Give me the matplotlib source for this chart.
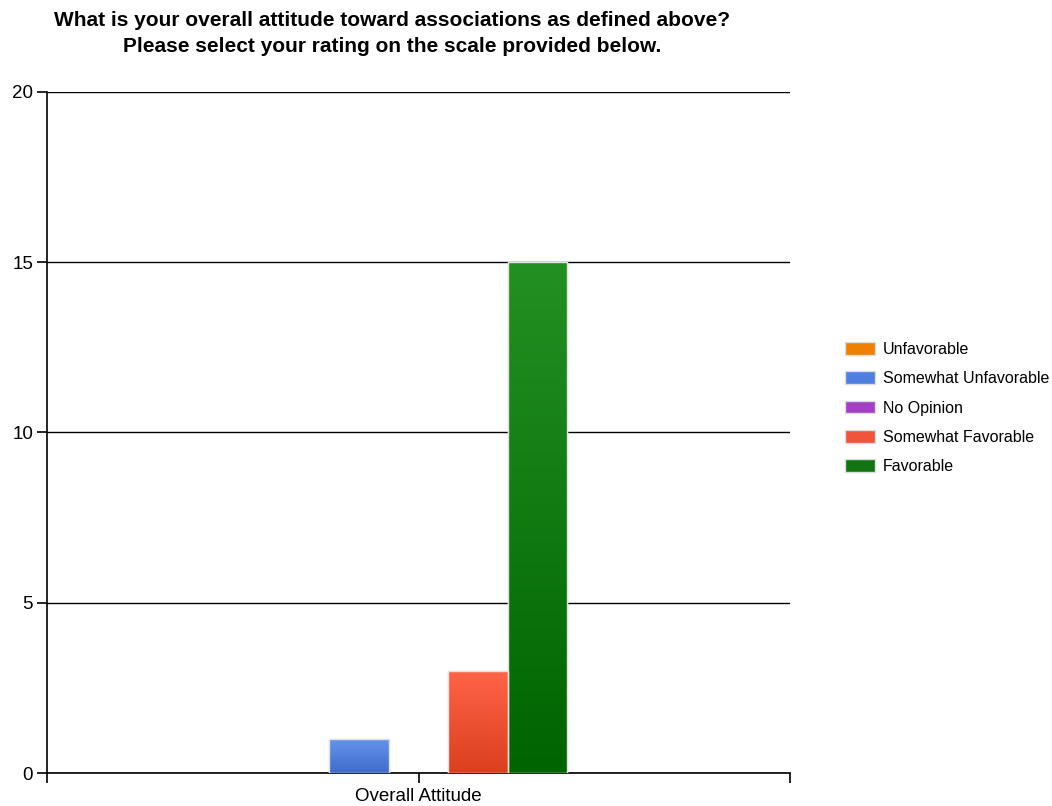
import numpy as np
import matplotlib.pyplot as plt
from matplotlib.colors import LinearSegmentedColormap
from matplotlib.patches import Patch

plt.rcParams['font.family'] = ['Liberation Sans', 'DejaVu Sans']

# ---- data
title_lines = ['What is your overall attitude toward associations as defined above?',
               'Please select your rating on the scale provided below.']
group = 'Overall Attitude'
answers = ['Unfavorable', 'Somewhat Unfavorable', 'No Opinion', 'Somewhat Favorable', 'Favorable']
counts = [0, 1, 0, 3, 15]
# (top colour, bottom colour) of each bar gradient
top_colors = ['#F58A1E', '#6694EC', '#B04AD0', '#FF6448', '#239023']
bottom_colors = ['#E06A00', '#3F6CCB', '#8E2EB0', '#DA3F1E', '#006400']
legend_colors = ['#F08000', '#4F7FDF', '#A23FC4', '#F0543A', '#107510']
yticks = [0, 5, 10, 15, 20]

fig = plt.figure(figsize=(10.52, 8.06), dpi=100)
ax = fig.add_axes([47 / 1052, 1 - 773 / 806, (790 - 47) / 1052, (773 - 92) / 806])

w = 0.08
for i, (val, c0, c1) in enumerate(zip(counts, top_colors, bottom_colors)):
    if val <= 0:
        continue  # empty answers draw nothing
    x = (i - 2) * w
    bar = ax.bar(x, val, width=w, color=c1, edgecolor='#e2e2e2', linewidth=1, zorder=3)[0]
    cmap = LinearSegmentedColormap.from_list('g%d' % i, [c1, c0])
    grad = np.linspace(0, 1, 256).reshape(-1, 1)
    im = ax.imshow(grad, cmap=cmap, origin='lower', aspect='auto',
                   extent=(x - w / 2, x + w / 2, 0, val), zorder=3.5)
    im.set_clip_path(bar)
    # redraw edge on top
    ax.bar(x, val, width=w, color='none', edgecolor='#e2e2e2', linewidth=1, zorder=4)

ax.set_xlim(-0.5, 0.5)
ax.set_ylim(0, 20)
ax.set_yticks(yticks)
ax.set_xticks([-0.5, 0, 0.5])
ax.set_xticklabels(['', group, ''])
ax.yaxis.grid(True, color='black', linewidth=1)
ax.set_axisbelow(True)
for s in ['top', 'right']:
    ax.spines[s].set_visible(False)
for s in ['left', 'bottom']:
    ax.spines[s].set_linewidth(1.2)
ax.tick_params(axis='both', length=7, width=1.2, labelsize=13.5, pad=3)
ax.tick_params(axis='x', pad=4)

handles = [Patch(facecolor=c, edgecolor='#dddddd', label=a) for c, a in zip(legend_colors, answers)]
fig.legend(handles=handles, loc='center left', bbox_to_anchor=(845 / 1052, 1 - 408 / 806),
           frameon=False, fontsize=11.5, handlelength=1.9, handleheight=0.85,
           labelspacing=0.9, handletextpad=0.45, borderpad=0, borderaxespad=0)

fig.text(392 / 1052, 1 - 20 / 806, title_lines[0], ha='center', va='center',
         fontsize=15, fontweight='bold')
fig.text(392 / 1052, 1 - 46 / 806, title_lines[1], ha='center', va='center',
         fontsize=15, fontweight='bold')

fig.savefig('out.png', dpi=100)
